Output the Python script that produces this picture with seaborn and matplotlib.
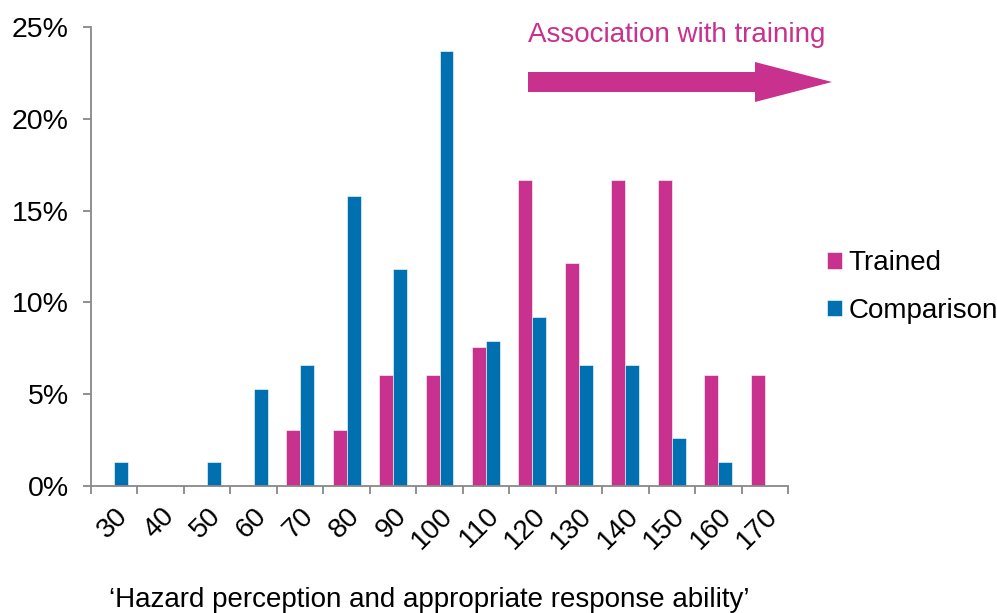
import matplotlib
matplotlib.use("Agg")
import matplotlib.pyplot as plt
import seaborn as sns
import pandas as pd
from matplotlib.ticker import FuncFormatter, FixedLocator

categories = ["30", "40", "50", "60", "70", "80", "90", "100", "110", "120", "130", "140", "150", "160", "170"]
trained = [0, 0, 0, 0, 3.03, 3.03, 6.06, 6.06, 7.58, 16.67, 12.12, 16.67, 16.67, 6.06, 6.06]
comparison = [1.32, 0, 1.32, 5.26, 6.58, 15.79, 11.84, 23.68, 7.89, 9.21, 6.58, 6.58, 2.63, 1.32, 0]
series_names = ["Trained", "Comparison"]
colors = ["#C8318D", "#0070B0"]
yticks = [0, 5, 10, 15, 20, 25]

df = pd.DataFrame({
    "cat": categories * 2,
    "value": trained + comparison,
    "series": [series_names[0]] * len(categories) + [series_names[1]] * len(categories),
})

sns.set_theme(style="white")
plt.rcParams["font.family"] = ["Liberation Sans", "DejaVu Sans"]
plt.rcParams["text.color"] = "black"
FS = 20

fig = plt.figure(figsize=(9.97, 6.13), dpi=100)
ax = fig.add_axes([91 / 997, 1 - 486 / 613, (788 - 91) / 997, (486 - 27) / 613])

sns.barplot(data=df, x="cat", y="value", hue="series", order=categories,
            hue_order=series_names, palette=colors, width=0.6, saturation=1,
            edgecolor="white", linewidth=0.4, ax=ax, legend=True)

ax.set_xlim(-0.5, len(categories) - 0.5)
ax.set_ylim(0, 25)
ax.set_yticks(yticks)
ax.yaxis.set_major_formatter(FuncFormatter(lambda v, p: f"{int(v)}%"))
ax.set_ylabel("")
ax.set_xlabel("\u2018Hazard perception and appropriate response ability\u2019",
              fontsize=FS, color="black", va="center")
ax.xaxis.set_label_coords(0.485, -0.248)

ax.set_xticks(range(len(categories)))
ax.set_xticklabels(categories, rotation=45, ha="right", rotation_mode="anchor", fontsize=FS)
ax.xaxis.set_minor_locator(FixedLocator([i - 0.5 for i in range(len(categories) + 1)]))
ax.tick_params(axis="x", which="major", length=0, pad=12, labelcolor="black")
ax.tick_params(axis="x", which="minor", length=6, width=1.3, color="#888888", direction="out", bottom=True)
ax.tick_params(axis="y", which="major", length=6, width=1.3, color="#888888", direction="out",
               left=True, labelsize=20.5, pad=10, labelcolor="black")

for s in ["top", "right"]:
    ax.spines[s].set_visible(False)
for s in ["left", "bottom"]:
    ax.spines[s].set_color("#888888")
    ax.spines[s].set_linewidth(1.3)

leg = ax.legend(loc="center left", bbox_to_anchor=(827 / 997, 1 - 287 / 613),
                bbox_transform=fig.transFigure, frameon=False, fontsize=FS,
                handlelength=0.55, handleheight=0.55, handletextpad=0.22, labelspacing=0.78,
                borderpad=0, borderaxespad=0)
for t in leg.get_texts():
    t.set_color("black")

fig.text(528 / 997, 1 - 35 / 613, "Association with training", color="#C8318D",
         fontsize=FS, ha="left", va="center")
ax.annotate("", xy=(832, 613 - 82), xytext=(528, 613 - 82),
            xycoords="figure pixels", textcoords="figure pixels",
            arrowprops=dict(arrowstyle="simple,head_length=3.85,head_width=2.0,tail_width=1.0",
                            mutation_scale=14.4, color="#C8318D", shrinkA=0, shrinkB=0,
                            linewidth=0),
            annotation_clip=False)

fig.savefig("out.png", dpi=100)
